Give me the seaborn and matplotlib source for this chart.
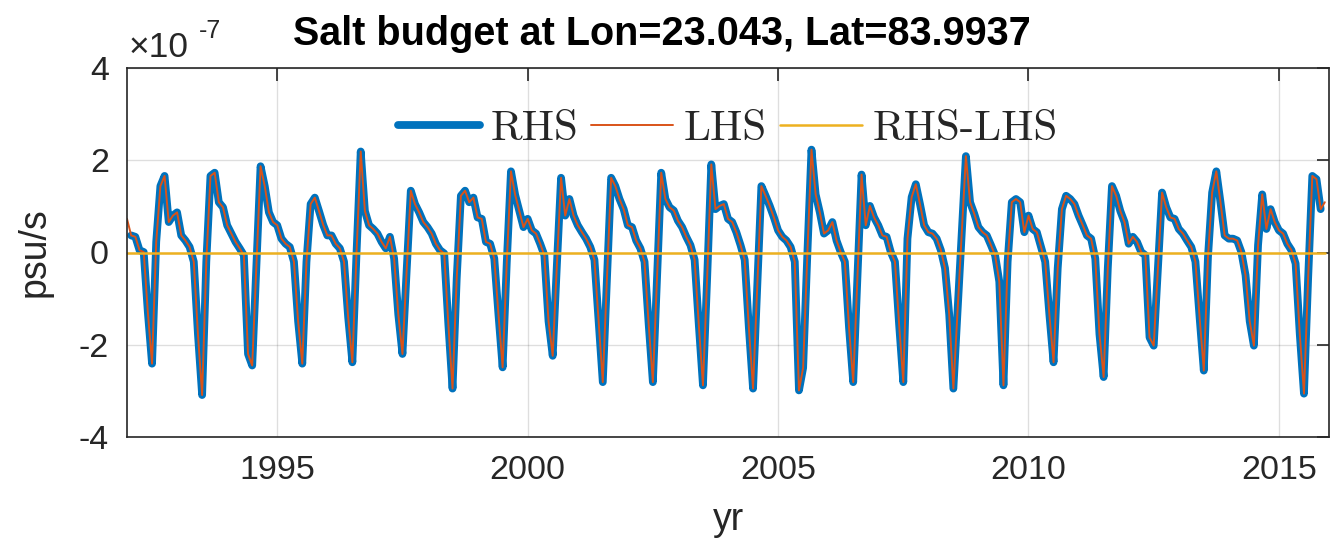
import numpy as np
import seaborn as sns
import matplotlib.pyplot as plt

# monthly salt budget terms (units of 1e-7 psu/s), Jan 1992 .. Dec 2015
lhs_by_year = {
    1992: [0.73, 0.37, 0.34, 0.05, 0.01, -1.30, -2.41, 0.23, 1.44, 1.66, 0.66, 0.80],
    1993: [0.87, 0.37, 0.26, 0.12, -0.20, -1.77, -3.09, -0.20, 1.66, 1.73, 1.09, 0.98],
    1994: [0.59, 0.41, 0.23, 0.09, -0.06, -2.20, -2.45, -0.30, 1.87, 1.44, 0.87, 0.66],
    1995: [0.59, 0.30, 0.19, 0.12, -0.20, -1.49, -2.41, -0.20, 1.05, 1.19, 0.90, 0.60],
    1996: [0.37, 0.37, 0.19, 0.09, -0.20, -1.41, -2.38, 0.00, 2.19, 0.90, 0.59, 0.51],
    1997: [0.41, 0.23, 0.09, 0.34, -0.13, -1.34, -2.20, -0.40, 1.34, 1.05, 0.87, 0.66],
    1998: [0.55, 0.41, 0.19, 0.05, -0.02, -1.56, -2.95, -0.56, 1.23, 1.34, 1.09, 1.19],
    1999: [0.76, 0.73, 0.23, 0.19, -0.13, -1.34, -2.49, -0.20, 1.76, 1.25, 0.90, 0.55],
    2000: [0.73, 0.48, 0.41, 0.19, -0.06, -1.49, -2.24, -0.27, 1.62, 0.80, 1.16, 0.80],
    2001: [0.59, 0.44, 0.30, 0.12, -0.16, -1.49, -2.81, -0.56, 1.62, 1.44, 1.16, 0.94],
    2002: [0.59, 0.55, 0.26, 0.09, -0.20, -1.56, -2.81, -0.56, 1.73, 1.16, 0.98, 0.91],
    2003: [0.69, 0.55, 0.34, 0.16, -0.16, -1.56, -2.88, -0.56, 1.91, 0.94, 1.01, 1.05],
    2004: [0.73, 0.66, 0.44, 0.16, -0.16, -1.63, -2.95, -0.77, 1.44, 1.23, 1.01, 0.76],
    2005: [0.48, 0.34, 0.26, 0.12, -0.20, -2.99, -2.50, -0.06, 2.23, 1.26, 0.87, 0.41],
    2006: [0.48, 0.66, 0.26, 0.01, -0.20, -1.63, -2.81, -0.56, 1.69, 0.59, 1.01, 0.76],
    2007: [0.59, 0.37, 0.34, 0.01, -0.20, -1.56, -2.81, 0.30, 1.20, 1.48, 1.05, 0.59],
    2008: [0.44, 0.41, 0.30, 0.05, -0.34, -1.34, -2.95, -1.27, 0.40, 2.09, 1.09, 0.84],
    2009: [0.55, 0.44, 0.37, 0.16, -0.06, -0.63, -2.88, -0.20, 1.09, 1.16, 1.09, 0.44],
    2010: [0.80, 0.51, 0.44, 0.12, -0.20, -1.34, -2.38, -0.34, 0.94, 1.23, 1.16, 1.05],
    2011: [0.80, 0.59, 0.37, 0.30, -0.13, -1.77, -2.70, -0.34, 1.44, 1.23, 0.90, 0.66],
    2012: [0.19, 0.34, 0.23, 0.01, -0.06, -1.84, -2.02, -0.34, 1.30, 0.98, 0.76, 0.73],
    2013: [0.51, 0.41, 0.26, 0.12, -0.20, -1.41, -2.56, -0.10, 1.30, 1.76, 1.09, 0.37],
    2014: [0.30, 0.30, 0.26, 0.01, -0.49, -1.49, -2.02, 0.16, 1.26, 0.51, 0.94, 0.66],
    2015: [0.48, 0.41, 0.19, 0.05, -0.24, -1.77, -3.06, -0.56, 1.66, 1.59, 0.94, 1.09],
}
years = list(lhs_by_year.keys())
lhs = np.array([v for y in years for v in lhs_by_year[y]])
t = years[0] + np.arange(len(lhs)) / 12.0

# RHS is missing at the first and last month
rhs = lhs.copy()
rhs[0] = np.nan
rhs[-1] = np.nan
resid = np.nan_to_num(rhs - lhs)

title = 'Salt budget at Lon=23.043, Lat=83.9937'
gray = '#262626'

sns.set_style('white')
plt.rcParams['font.family'] = ['Liberation Sans', 'DejaVu Sans']
plt.rcParams['axes.unicode_minus'] = False

fig = plt.figure(figsize=(13.35, 5.51), dpi=100)
ax = fig.add_axes([127 / 1335, 1 - 437 / 551, 1202 / 1335, 369 / 551])

sns.lineplot(x=t, y=rhs, ax=ax, color='#0072BD', linewidth=5.6, label='RHS')
sns.lineplot(x=t, y=lhs, ax=ax, color='#D95319', linewidth=1.4, label='LHS')
sns.lineplot(x=t, y=resid, ax=ax, color='#EDB120', linewidth=1.8, label='RHS-LHS')

ax.set_xlim(1992, 2016)
ax.set_ylim(-4, 4)
ax.set_xticks([1995, 2000, 2005, 2010, 2015])
ax.set_yticks([-4, -2, 0, 2, 4])
ax.grid(True, color=gray, alpha=0.15, linewidth=1)
for s in ax.spines.values():
    s.set_color(gray)
    s.set_linewidth(1.2)
ax.tick_params(direction='in', length=9, width=1.2, color=gray,
               labelcolor=gray, labelsize=24.5, pad=13,
               top=True, right=True)

ax.set_ylabel('psu/s', fontsize=27, color=gray)
ax.yaxis.set_label_coords(-0.062, 0.5)
ax.set_xlabel('yr', fontsize=27, color=gray, va='center')
ax.xaxis.set_label_coords(0.5, -0.225)

fig.text(662 / 1335, 1 - 34 / 551, title, fontsize=28.5, fontweight='bold',
         ha='center', va='center', color='black')
fig.text(129 / 1335, 1 - 57 / 551, '\u00d710', fontsize=25.5, color=gray,
         ha='left', va='baseline')
fig.text(199 / 1335, 1 - 38 / 551, '-7', fontsize=18, color=gray,
         ha='left', va='baseline')

handles, labels = ax.get_legend_handles_labels()
ax.legend(handles, labels, ncol=3, frameon=False, loc='center',
          bbox_to_anchor=(0.50, 0.835), prop={'family': 'cmr10', 'size': 31},
          handlelength=1.9, handletextpad=0.25, columnspacing=0.3)

fig.savefig('out.png', dpi=100, facecolor='white')
